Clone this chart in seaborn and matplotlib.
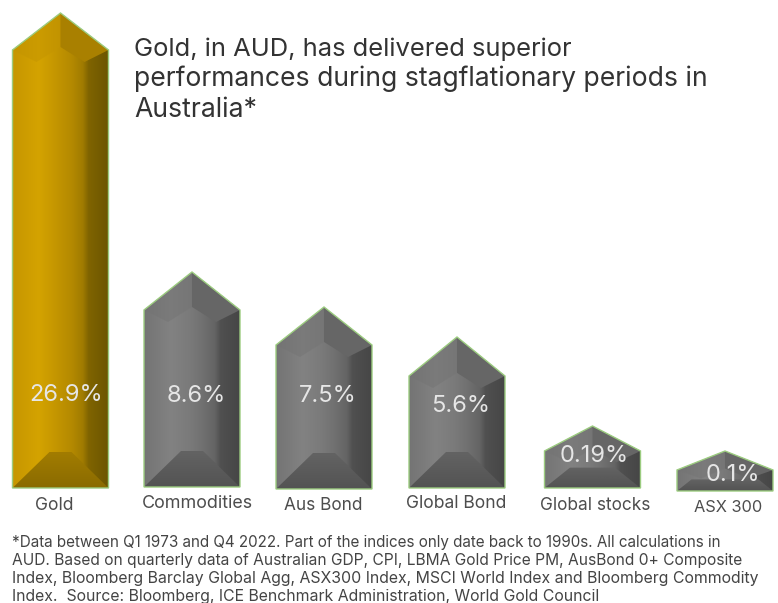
import matplotlib
matplotlib.use("Agg")
import matplotlib.pyplot as plt
from matplotlib.colors import LinearSegmentedColormap
from matplotlib.patches import Polygon
from matplotlib.transforms import Affine2D
import numpy as np
import pandas as pd
import seaborn as sns

# Data
assets = ["Gold", "Commodities", "Aus Bond", "Global Bond", "Global stocks", "ASX 300"]
returns = [26.9, 8.6, 7.5, 5.6, 0.19, 0.1]
value_labels = ["26.9%", "8.6%", "7.5%", "5.6%", "0.19%", "0.1%"]
title_lines = [
    "Gold, in AUD, has delivered superior",
    "performances during stagflationary periods in",
    "Australia*",
]
note_lines = [
    "*Data between Q1 1973 and Q4 2022. Part of the indices only date back to 1990s. All calculations in",
    "AUD. Based on quarterly data of Australian GDP, CPI, LBMA Gold Price PM, AusBond 0+ Composite",
    "Index, Bloomberg Barclay Global Agg, ASX300 Index, MSCI World Index and Bloomberg Commodity",
    "Index.  Source: Bloomberg, ICE Benchmark Administration, World Gold Council",
]

# The value axis is compressed: returns map to pixel heights piecewise
scale_values = [-10, 0, 0.1, 0.19, 5.6, 7.5, 8.6, 26.9, 40]
scale_heights = [-150, 0, 40, 62, 151, 182, 215, 475, 640]

# Styling
W, H = 778, 603
BASE_Y = 488
SPACING, FIRST_X = 132.9, 60.5
nudge_x = [0, -1.4, -2.3, -2.2, 0.4, 0]
nudge_y = [0, -1, 1, 0, 0, 3]
roof_drop = [37, 38, 38, 39, 25, 19]
label_pos = [(66, 395), (196, 396), (328, 396), (461, 406), (594, 456), (733, 475)]
tick_x = [54, 197, 323, 456, 595, 728]
tick_y = [505, 503, 505, 503, 505, 508]
tick_size = [12.6, 12.9, 12.4, 12.6, 12.4, 11.8]
title_sizes = [18.4, 19.1, 19.2]
note_sizes = [10.95, 11.2, 11.4, 11.4]
GOLD_STOPS = [(0, "#c69600"), (0.28, "#d4a300"), (0.48, "#c29400"), (0.62, "#b58a00"),
              (0.74, "#a07b00"), (0.80, "#806400"), (1, "#6c5600")]
GRAY_STOPS = [(0, "#747474"), (0.28, "#828282"), (0.48, "#7a7a7a"), (0.62, "#707070"),
              (0.74, "#646464"), (0.80, "#505050"), (1, "#464646")]
GOLD_FACETS = dict(left="#c49500", right="#a98000", low="#8a6b00", low2="#a27c00")
GRAY_FACETS = dict(left="#747474", right="#666666", low="#535353", low2="#636363")
EDGE = "#9ccc80"

sns.set_theme(style="white")
plt.rcParams["font.family"] = ["Inter", "DejaVu Sans"]

fig = plt.figure(figsize=(W / 100, H / 100), dpi=100, facecolor="white")
ax = fig.add_axes([0, 0, 1, 1])

# Compressed value scale
def to_height(v):
    return np.interp(v, scale_values, scale_heights)

def to_value(h):
    return np.interp(h, scale_heights, scale_values)

ax.set_yscale("function", functions=(to_height, to_value))

df = pd.DataFrame({"asset": assets, "value": returns})
sns.barplot(data=df, x="asset", y="value", hue="asset", legend=False, width=96 / SPACING,
            palette=["#c69600"] + ["#747474"] * 5, ax=ax, saturation=1, edgecolor="none")
ax.set_xlim(-FIRST_X / SPACING, (W - FIRST_X) / SPACING)
ax.set_ylim(to_value(BASE_Y - H), to_value(BASE_Y))
ax.set_xlabel("")
ax.set_ylabel("")
ax.yaxis.set_visible(False)
sns.despine(ax=ax, left=True, bottom=True)
ax.tick_params(axis="x", length=0, labelbottom=False)

# Pixel-space overlay holding the bevelled shading of each bar
ov = fig.add_axes([0, 0, 1, 1], facecolor="none")
ov.set_xlim(0, W)
ov.set_ylim(H, 0)
ov.axis("off")

for i, bar in enumerate(ax.patches):
    gold = i == 0
    stops = GOLD_STOPS if gold else GRAY_STOPS
    f = GOLD_FACETS if gold else GRAY_FACETS
    cmap = LinearSegmentedColormap.from_list("bevel", stops)

    x0, y0 = ax.transData.transform((bar.get_x(), 0))
    x1, y1 = ax.transData.transform((bar.get_x() + bar.get_width(), bar.get_height()))
    xl, xr = x0 + nudge_x[i], x1 + nudge_x[i]
    base, top = H - y0 + nudge_y[i], H - y1 + nudge_y[i]
    bar.set_transform(bar.get_transform() + Affine2D().translate(nudge_x[i], -nudge_y[i]))
    xc = (xl + xr) / 2
    ys = top + roof_drop[i]
    body = base - ys

    house = Polygon([(xc, top), (xr, ys), (xr, base), (xl, base), (xl, ys)], closed=True,
                    facecolor="none", edgecolor="none", transform=ov.transData)
    ov.add_patch(house)
    bar.set_clip_path(house)

    # Horizontal shading across the body
    grad = ov.imshow(np.linspace(0, 1, 200)[None, :], cmap=cmap, aspect="auto",
                     extent=(xl, xr, base, top), interpolation="bilinear", zorder=1)
    grad.set_clip_path(house)

    # Bevel geometry
    trap_h = min(36, 0.55 * body)
    trap_in = min(37, trap_h * 1.25 if trap_h < 36 else 37)
    side = min(24, 0.25 * (xr - xl))
    drop = min(12, 0.45 * roof_drop[i])

    ov.add_patch(Polygon([(xc, top), (xl, ys), (xl + side, ys + drop), (xc, ys - 0.08 * roof_drop[i])],
                         facecolor=f["left"], edgecolor="none", alpha=0.5, zorder=2))
    ov.add_patch(Polygon([(xc, top), (xr, ys), (xr - side, ys + drop), (xc, ys - 0.08 * roof_drop[i])],
                         facecolor=f["right"], edgecolor="none", zorder=2))

    # Lower bevel, darkening towards the foot of the bar
    low_cmap = LinearSegmentedColormap.from_list("foot", [f["low2"], f["low"]])
    foot = Polygon([(xl, base), (xr, base), (xr - trap_in, base - trap_h), (xl + trap_in, base - trap_h)],
                   facecolor="none", edgecolor="none", zorder=3)
    ov.add_patch(foot)
    shade = ov.imshow(np.linspace(0, 1, 50)[:, None], cmap=low_cmap, aspect="auto",
                      extent=(xl, xr, base, base - trap_h), zorder=3)
    shade.set_clip_path(foot)

    ov.add_patch(Polygon([(xc, top), (xr, ys), (xr, base), (xl, base), (xl, ys)], closed=True,
                         facecolor="none", edgecolor=EDGE, lw=1.0, zorder=4))
    ov.text(label_pos[i][0], label_pos[i][1], value_labels[i], ha="center", va="center",
            fontsize=17, color="#e6e6e6", zorder=5)
    ov.text(tick_x[i], tick_y[i], assets[i], ha="center", va="center",
            fontsize=tick_size[i], color="#4d4d4d", zorder=5)

ov.set_xlim(0, W)
ov.set_ylim(H, 0)

for line, y, size in zip(title_lines, [49, 79, 110], title_sizes):
    ov.text(134, y, line, ha="left", va="center", fontsize=size, color="#333333")
for line, y, size in zip(note_lines, [542, 560, 578, 596], note_sizes):
    ov.text(12, y, line, ha="left", va="center", fontsize=size, color="#444444")

fig.savefig("out.png", dpi=100)
